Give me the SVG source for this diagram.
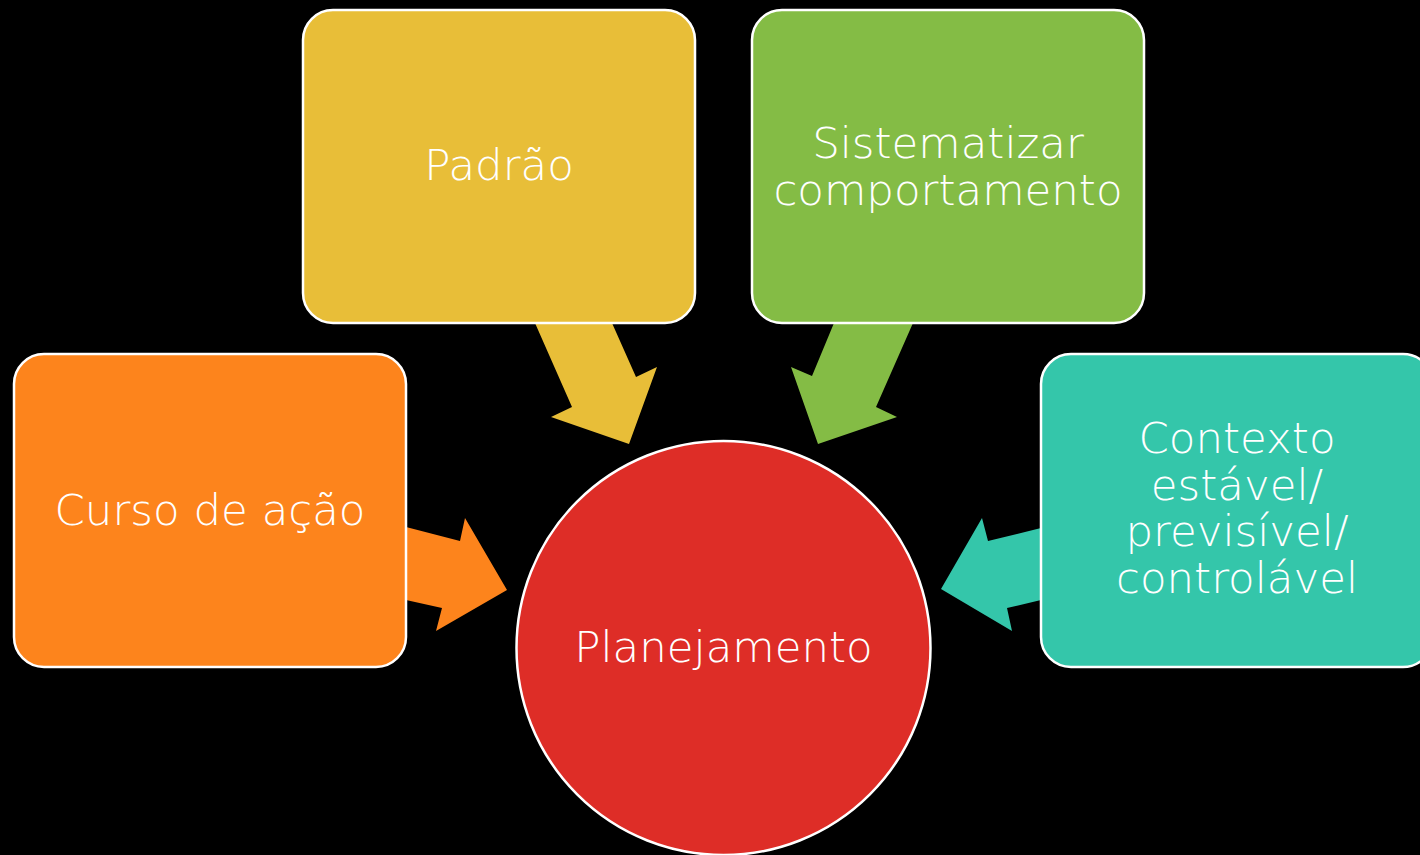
<svg xmlns="http://www.w3.org/2000/svg" width="1420" height="855" viewBox="0 0 1420 855">
<style>
.box{stroke:#fff;stroke-width:2.5}
.t{fill:#fff;font-family:"DejaVu Sans",Lato,sans-serif;font-weight:200;font-size:43.5px;text-anchor:middle}
</style>
<rect width="1420" height="855" fill="#000"/>
<g id="connectors">
<polygon fill="#FD841C" points="406,527 460,541 465,518 507,590 436,631 442,608 406,600"/>
<polygon fill="#E8BE38" points="535,323 572,407 551,417 629,444 657,367 636,377 612,323"/>
<polygon fill="#84BC45" points="834,323 812,376 791,367 818,444 897,417 876,407 913,323"/>
<polygon fill="#34C6AA" points="1041,528 988,541 982,518 941,589 1012,631 1007,608 1041,600"/>
</g>
<g id="curso">
<rect class="box" x="14" y="354" width="392" height="313" rx="30" fill="#FD841C"/>
<text class="t" x="210" y="525">Curso de ação</text>
</g>
<g id="padrao">
<rect class="box" x="303" y="10" width="392" height="313" rx="30" fill="#E8BE38"/>
<text class="t" x="499" y="180">Padrão</text>
</g>
<g id="sistematizar">
<rect class="box" x="752" y="10" width="392" height="313" rx="30" fill="#84BC45"/>
<text class="t" x="948" y="158">Sistematizar</text>
<text class="t" x="948" y="205">comportamento</text>
</g>
<g id="contexto">
<rect class="box" x="1041" y="354" width="392" height="313" rx="30" fill="#34C6AA"/>
<text class="t" x="1237" y="453">Contexto</text>
<text class="t" x="1237" y="500">estável/</text>
<text class="t" x="1237" y="546">previsível/</text>
<text class="t" x="1237" y="593">controlável</text>
</g>
<g id="planejamento">
<circle cx="723.5" cy="648" r="207" fill="#DE2D27" stroke="#fff" stroke-width="2.5"/>
<text class="t" x="723.5" y="662">Planejamento</text>
</g>
</svg>
